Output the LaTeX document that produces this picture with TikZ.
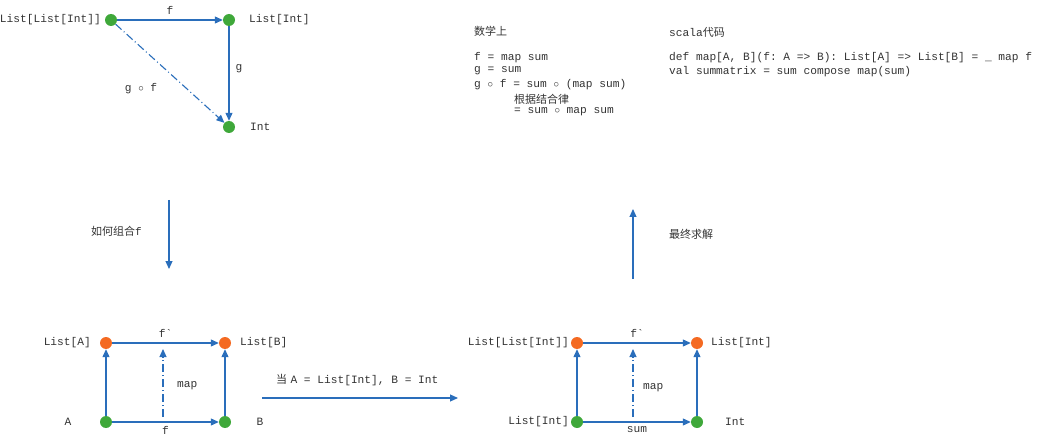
\documentclass[tikz,border=0pt]{standalone}
\usepackage{fontspec}
\setmonofont{Liberation Mono}
\newfontfamily\cjk{Noto Sans CJK SC}
\usetikzlibrary{arrows.meta}
\definecolor{linecol}{HTML}{2A6EBB}
\definecolor{greendot}{HTML}{3FA83A}
\definecolor{orangedot}{HTML}{F46A22}
\definecolor{txt}{HTML}{333333}
\tikzset{
  dotg/.style={circle, minimum size=12pt, inner sep=0pt, fill=greendot},
  doto/.style={circle, minimum size=12pt, inner sep=0pt, fill=orangedot},
  arr/.style={draw=linecol, line width=1.1pt, -{Triangle[length=8pt,width=7pt]}},
  dd/.style={arr, dash pattern=on 8pt off 3pt on 1pt off 3pt},
  lbl/.style={inner sep=0pt, text=txt, font=\ttfamily\fontsize{11.2}{13}\selectfont},
  cn/.style={inner sep=0pt, text=txt, font=\cjk\fontsize{11}{13}\selectfont},
}
\begin{document}
\begin{tikzpicture}[x=1pt,y=-1pt]
\useasboundingbox (0,0) rectangle (1037,441);
% top triangle
\node[dotg] (t1) at (111,20) {};
\node[dotg] (t2) at (229,20) {};
\node[dotg] (t3) at (229,127) {};
\node[lbl, anchor=east] (t1l) at (101,20) {List[List[Int]]};
\node[lbl, anchor=west] (t2l) at (249,20) {List[Int]};
\node[lbl, anchor=west] (t3l) at (250,127) {Int};
\draw[arr] (t1) -- node[lbl, above=5pt] {f} (t2);
\draw[arr] (t2) -- node[lbl, right=6pt, pos=0.45] {g} (t3);
\draw[dd] (t1) -- (t3);
\node[lbl] (gof) at (141,89) {g $\circ$ f};
% middle arrows
\coordinate (m1a) at (169,200);
\coordinate (m1b) at (169,269);
\draw[arr] (m1a) -- (m1b);
\node[cn, anchor=west] (m1l) at (91,231) {如何组合{\ttfamily f}};
\coordinate (m2a) at (633,279);
\coordinate (m2b) at (633,209);
\draw[arr] (m2a) -- (m2b);
\node[cn, anchor=west] (m2l) at (669,234) {最终求解};
% text block
\node[cn, anchor=west] (h1) at (474,31) {数学上};
\node[lbl, anchor=west] (e1) at (474,58) {f = map sum};
\node[lbl, anchor=west] (e2) at (474,71) {g = sum};
\node[lbl, anchor=west] (e3) at (474,85) {g $\circ$ f = sum $\circ$ (map sum)};
\node[cn, anchor=west] (e4) at (514,99) {根据结合律};
\node[lbl, anchor=west] (e5) at (514,112) {= sum $\circ$ map sum};
\node[anchor=west, inner sep=0pt, text=txt] (h2) at (669,32) {{\ttfamily\fontsize{11.2}{13}\selectfont scala}{\cjk\fontsize{11}{13}\selectfont 代码}};
\node[lbl, anchor=west] (c1) at (669,58) {def map[A, B](f: A => B): List[A] => List[B] = \_ map f};
\node[lbl, anchor=west] (c2) at (669,72) {val summatrix = sum compose map(sum)};
% bottom left square
\node[doto] (la) at (106,343) {};
\node[doto] (lb) at (225,343) {};
\node[dotg] (a) at (106,422) {};
\node[dotg] (b) at (225,422) {};
\node[lbl, anchor=east] (lal) at (91,343) {List[A]};
\node[lbl, anchor=west] (lbl2) at (240,343) {List[B]};
\node[lbl] (al) at (68,422) {A};
\node[lbl] (bl) at (260,422) {B};
\draw[arr] (la) -- node[lbl, above=5pt] {f`} (lb);
\draw[arr] (a) -- node[lbl, below=4pt] {f} (b);
\draw[arr] (a) -- (la);
\draw[arr] (b) -- (lb);
\coordinate (mla) at (163,417);
\coordinate (mlb) at (163,349);
\draw[dd] (mla) -- (mlb);
\node[lbl, anchor=west] (mapl) at (177,386) {map};
% horizontal arrow
\coordinate (ha) at (262,398);
\coordinate (hb) at (458,398);
\draw[arr] (ha) -- (hb);
\node[anchor=west, inner sep=0pt, text=txt] (hl) at (276,380) {{\cjk\fontsize{11}{13}\selectfont 当} {\ttfamily\fontsize{11.2}{13}\selectfont A = List[Int], B = Int}};
% bottom right square
\node[doto] (r1) at (577,343) {};
\node[doto] (r2) at (697,343) {};
\node[dotg] (r3) at (577,422) {};
\node[dotg] (r4) at (697,422) {};
\node[lbl, anchor=east] (r1l) at (569,343) {List[List[Int]]};
\node[lbl, anchor=west] (r2l) at (711,343) {List[Int]};
\node[lbl, anchor=east] (r3l) at (569,422) {List[Int]};
\node[lbl, anchor=west] (r4l) at (725,422) {Int};
\draw[arr] (r1) -- node[lbl, above=5pt] {f`} (r2);
\draw[arr] (r3) -- node[lbl, below=4pt] {sum} (r4);
\draw[arr] (r3) -- (r1);
\draw[arr] (r4) -- (r2);
\coordinate (mra) at (633,417);
\coordinate (mrb) at (633,349);
\draw[dd] (mra) -- (mrb);
\node[lbl, anchor=west] (mapr) at (643,388) {map};
\end{tikzpicture}
\end{document}
